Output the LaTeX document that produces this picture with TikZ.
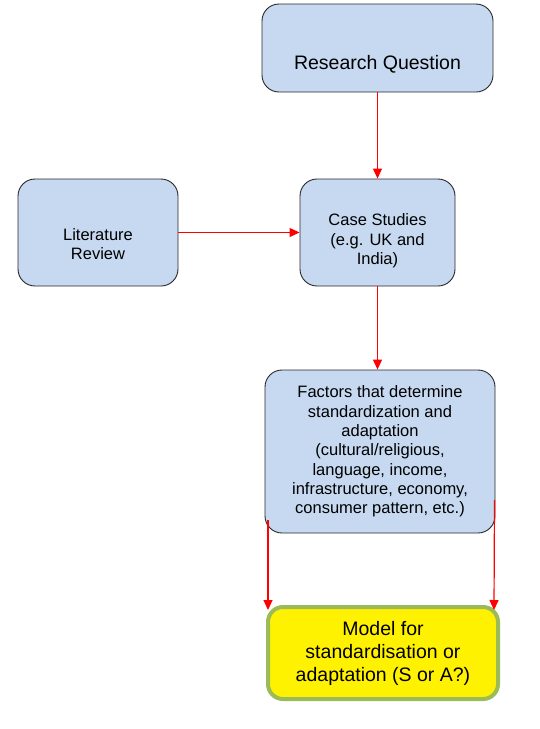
\documentclass[tikz,border=0pt]{standalone}
\usepackage{fontspec}
\setmainfont{Liberation Sans}
\usetikzlibrary{arrows.meta}
\definecolor{boxblue}{RGB}{198,217,240}
\definecolor{boxline}{RGB}{40,40,40}
\definecolor{modelline}{RGB}{155,187,89}
\begin{document}
\begin{tikzpicture}[x=1pt,y=-1pt,
  bluebox/.style={draw=boxline,line width=0.9pt,fill=boxblue,rounded corners=17pt,inner sep=0pt,anchor=center},
  smalltext/.style={align=center,font=\fontsize{16.5}{19.3}\selectfont,inner sep=0pt},
  bigtext/.style={align=center,font=\fontsize{19.5}{23}\selectfont,inner sep=0pt},
  redarrow/.style={draw=red,line width=1.2pt,-{Triangle[length=10pt,width=9pt]}}]
\useasboundingbox (0,0) rectangle (539,729);
% boxes
\node[bluebox,minimum width=231pt,minimum height=88pt] (RQ) at (377.5,48) {};
\node[bigtext] (rqt) at (377.5,64) {Research Question};
\node[bluebox,minimum width=160pt,minimum height=107pt] (LR) at (98,232.5) {};
\node[smalltext] (lrt) at (98,244) {Literature\\Review};
\node[bluebox,minimum width=155pt,minimum height=107pt] (CS) at (377.5,232.5) {};
\node[smalltext] (cst) at (377.5,241) {Case Studies\\(e.g. UK and\\India)};
\node[bluebox,minimum width=230pt,minimum height=163pt,smalltext] (F) at (380,451.5) {Factors that determine\\standardization and\\adaptation\\(cultural/religious,\\language, income,\\infrastructure, economy,\\consumer pattern, etc.)};
\node[draw=modelline,line width=4pt,fill=yellow,rounded corners=15pt,minimum width=230pt,minimum height=92pt,inner sep=0pt,bigtext] (M) at (383,653) {Model for\\standardisation or\\adaptation (S or A?)};
% connectors
\draw[redarrow] (RQ.south) -- (CS.north);
\draw[redarrow] (LR.east) -- (CS.west);
\draw[redarrow] (CS.south) -- (CS.south |- F.north);
\coordinate (fl) at (268,520);
\coordinate (ml) at (268,610);
\coordinate (fr) at (494.5,500);
\coordinate (mr) at (494,610);
\draw[redarrow] (fl) -- (ml);
\draw[redarrow] (fr) -- (mr);
\end{tikzpicture}
\end{document}
